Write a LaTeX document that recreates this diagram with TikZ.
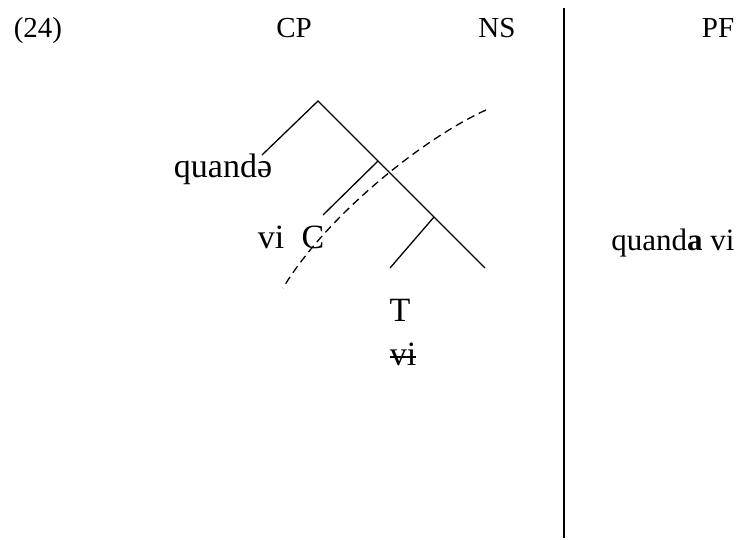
\documentclass[tikz,border=0pt]{standalone}
\usepackage{fontspec}
\setmainfont{Liberation Serif}
\begin{document}
\begin{tikzpicture}[x=1pt,y=-1pt,
  lbl/.style={inner sep=0pt,anchor=base,font=\fontsize{34}{40}\selectfont},
  testa/.style={inner sep=0pt,anchor=base,font=\fontsize{29}{34}\selectfont},
  ramo/.style={line width=1.3pt}]
  \useasboundingbox (0,0) rectangle (738,539);
  % intestazione
  \node[testa] (num) at (38,37) {(24)};
  \node[testa] (cp) at (294,37) {CP};
  \node[testa] (ns) at (497,37) {NS};
  \node[testa] (pf) at (718,37) {PF};
  \coordinate (alto) at (564,8);
  \coordinate (basso) at (564,538);
  \draw[ramo] (alto) -- (basso);
  % albero
  \coordinate (rad) at (318,101);
  \coordinate (spec) at (262,155);
  \coordinate (n1) at (378,161);
  \coordinate (c1) at (323,215);
  \coordinate (n2) at (434,217);
  \coordinate (t1) at (390,268);
  \coordinate (fine) at (485,268);
  \draw[ramo] (spec) -- (rad) -- (n1) -- (n2) -- (fine);
  \draw[ramo] (n1) -- (c1);
  \draw[ramo] (n2) -- (t1);
  % etichette
  \node[lbl] (quando) at (223,177) {quandə};
  \node[lbl] (vi) at (271,248) {vi};
  \node[lbl] (C) at (313,248) {C};
  \node[lbl] (T) at (400,321) {T};
  \node[lbl] (vicopia) at (403,365) {vi};
  \draw[line width=1.1pt] ([yshift=8pt]vicopia.base west) -- ([yshift=8pt]vicopia.base east);
  \node[lbl,font=\fontsize{31}{36}\selectfont] (pfstr) at (673,250) {quand\textbf{a} vi};
  % fase
  \coordinate (arcA) at (486,110);
  \coordinate (arcB) at (283,288);
  \draw[ramo,dash pattern=on 8pt off 5pt] (arcA) .. controls (420,140) and (325,218) .. (arcB);
\end{tikzpicture}
\end{document}
